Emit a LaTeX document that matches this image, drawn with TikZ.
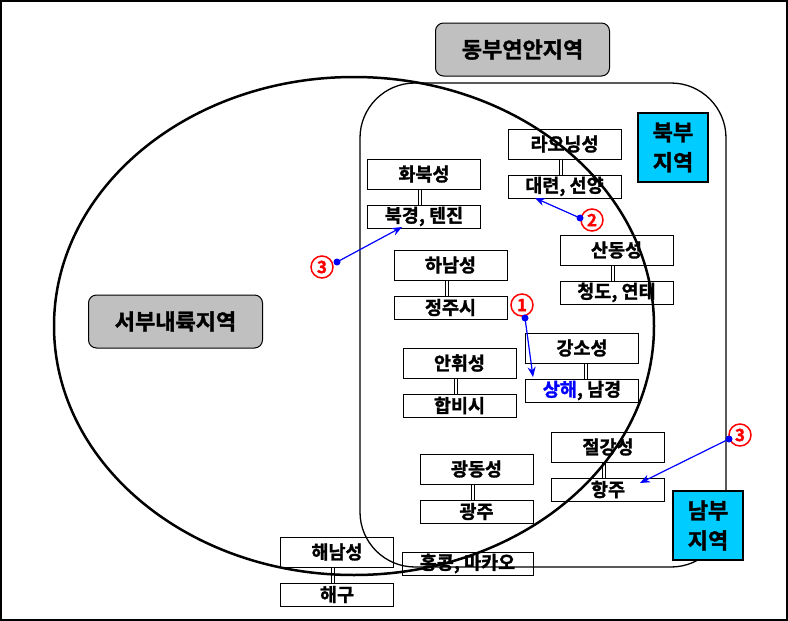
\documentclass[tikz,border=0pt]{standalone}
\usepackage{fontspec}
\setmainfont{Noto Sans CJK KR}[BoldFont={Noto Sans CJK KR Bold}, BoldFeatures={FakeBold=1.5}]
\usetikzlibrary{arrows.meta}
\usetikzlibrary{positioning}
\definecolor{regiongray}{RGB}{192,192,192}
\definecolor{areacyan}{RGB}{0,204,255}
\definecolor{ptrblue}{RGB}{0,0,255}
\tikzset{
    prov/.style={draw, fill=white, line width=1pt, minimum width=113pt, minimum height=30pt,
        inner sep=0pt, font=\fontsize{18.5}{18.5}\selectfont\bfseries},
    city/.style={prov, minimum height=23pt},
    region/.style={draw, fill=regiongray, rounded corners=8pt, line width=1pt,
        minimum width=174pt, minimum height=53pt, font=\fontsize{22}{22}\selectfont\bfseries},
    area/.style={draw, fill=areacyan, line width=1.2pt, minimum width=70pt, minimum height=69pt,
        align=center, font=\fontsize{22}{30}\selectfont\bfseries},
    link/.style={double, double distance=2pt, line width=1pt},
    ptr/.style={draw=ptrblue, line width=1.2pt, -{Stealth[length=10pt,width=8pt]}},
    cnum/.style={circle, draw=red, text=red, line width=1.5pt, minimum size=22pt,
        inner sep=0pt, font=\fontsize{17}{17}\selectfont\bfseries}
}

\begin{document}
\begin{tikzpicture}[x=1pt, y=-1pt]
    \useasboundingbox (0,0) rectangle (788,621);
    \draw[line width=2pt] (1,1) rectangle (787,620);
    % provinces and cities
    \node[prov] (liaoning) at (564.5,144) {라오닝성};
    \node[city, below=15pt of liaoning] (dalian) {대련, 선양};
    \node[prov] (hwabuk) at (424,174) {화북성};
    \node[city, below=15pt of hwabuk] (beijing) {북경, 텐진};
    \node[prov] (henan) at (450.5,265) {하남성};
    \node[city, below=15pt of henan] (zhengzhou) {정주시};
    \node[prov] (shandong) at (616.5,250) {산동성};
    \node[city, below=15pt of shandong] (qingdao) {청도, 연태};
    \node[prov] (anhui) at (459.5,363) {안휘성};
    \node[city, below=15pt of anhui] (hefei) {합비시};
    \node[prov] (jiangsu) at (582,348) {강소성};
    \node[city, below=15pt of jiangsu] (shanghai) {{\color{ptrblue}상해}, 남경};
    \node[prov] (zhejiang) at (608,447) {절강성};
    \node[city, below=15pt of zhejiang] (hangzhou) {항주};
    \node[prov] (guangdong) at (476.5,469) {광동성};
    \node[city, below=15pt of guangdong] (guangzhou) {광주};
    \node[prov] (hainan) at (337,552) {해남성};
    \node[city, below=15pt of hainan] (haikou) {해구};
    \node[city, minimum width=131pt] (hongkong) at (467.5,563.5) {홍콩, 마카오};
    \draw[link] ([xshift=-4pt]liaoning.south) -- ([xshift=-4pt]dalian.north);
    \draw[link] ([xshift=-4pt]hwabuk.south) -- ([xshift=-4pt]beijing.north);
    \draw[link] ([xshift=-4pt]henan.south) -- ([xshift=-4pt]zhengzhou.north);
    \draw[link] ([xshift=-4pt]shandong.south) -- ([xshift=-4pt]qingdao.north);
    \draw[link] ([xshift=-4pt]anhui.south) -- ([xshift=-4pt]hefei.north);
    \draw[link] ([xshift=4pt]jiangsu.south) -- ([xshift=4pt]shanghai.north);
    \draw[link] ([xshift=-4pt]zhejiang.south) -- ([xshift=-4pt]hangzhou.north);
    \draw[link] ([xshift=-4pt]guangdong.south) -- ([xshift=-4pt]guangzhou.north);
    \draw[link] ([xshift=-4pt]hainan.south) -- ([xshift=-4pt]haikou.north);
    % regions
    \draw[line width=2.5pt] (354,326) ellipse [x radius=300, y radius=249];
    \draw[line width=1.3pt, rounded corners=55pt] (360,83) rectangle (726,567);
    \node[region] (east) at (522.5,49.5) {동부연안지역};
    \node[region] (west) at (175.5,321.5) {서부내륙지역};
    \node[area] (bukbu) at (673,147.5) {북부\\지역};
    \node[area] (nambu) at (708,525.5) {남부\\지역};
    % pointers
    \coordinate (d1) at (525,318);
    \coordinate (e1) at (533,377);
    \coordinate (d2) at (580,218);
    \coordinate (e2) at (535,198);
    \coordinate (d3) at (337,262);
    \coordinate (e3) at (402,227);
    \coordinate (d4) at (729,439);
    \coordinate (e4) at (640,483);
    \node[cnum] (n1) at (522,305) {1};
    \node[cnum] (n2) at (592,220) {2};
    \node[cnum] (n3) at (322,267) {3};
    \node[cnum] (n4) at (740,435) {3};
    \draw[ptr] (d1) -- (e1);
    \draw[ptr] (d2) -- (e2);
    \draw[ptr] (d3) -- (e3);
    \draw[ptr] (d4) -- (e4);
    \foreach \p in {d1,d2,d3,d4}
        \fill[ptrblue] (\p) circle (3.5pt);
\end{tikzpicture}
\end{document}
